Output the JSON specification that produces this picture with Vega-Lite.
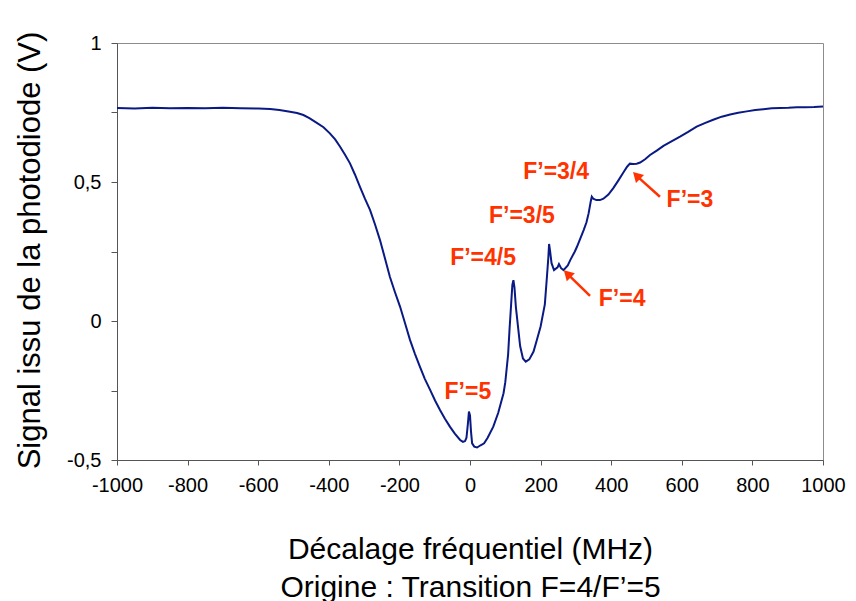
{
  "$schema": "https://vega.github.io/schema/vega-lite/v6.json",
  "width": 706,
  "height": 417,
  "autosize": {"type": "none"},
  "padding": {"left": 117, "top": 43, "right": 33, "bottom": 141},
  "background": "white",
  "config": {
    "view": {"stroke": "#8c8c8c", "strokeWidth": 1},
    "axis": {"grid": false, "domainColor": "#555555", "tickColor": "#555555", "labelColor": "#000000", "titleColor": "#000000", "titleFontWeight": "normal"}
  },
  "datasets": {
    "curve": [
      {"f": -1000, "v": 0.766}, {"f": -950, "v": 0.764}, {"f": -900, "v": 0.767}, {"f": -850, "v": 0.765},
      {"f": -800, "v": 0.766}, {"f": -750, "v": 0.765}, {"f": -700, "v": 0.767}, {"f": -650, "v": 0.765},
      {"f": -600, "v": 0.764}, {"f": -566, "v": 0.763}, {"f": -540, "v": 0.759}, {"f": -510, "v": 0.753},
      {"f": -490, "v": 0.748}, {"f": -472, "v": 0.741}, {"f": -455, "v": 0.730}, {"f": -434, "v": 0.713},
      {"f": -415, "v": 0.697}, {"f": -397, "v": 0.675}, {"f": -382, "v": 0.653}, {"f": -368, "v": 0.627},
      {"f": -354, "v": 0.598}, {"f": -340, "v": 0.567}, {"f": -326, "v": 0.527}, {"f": -312, "v": 0.483},
      {"f": -298, "v": 0.441}, {"f": -283, "v": 0.399}, {"f": -269, "v": 0.347}, {"f": -255, "v": 0.291},
      {"f": -241, "v": 0.226}, {"f": -227, "v": 0.159}, {"f": -213, "v": 0.105}, {"f": -198, "v": 0.051},
      {"f": -184, "v": -0.008}, {"f": -170, "v": -0.068}, {"f": -156, "v": -0.118}, {"f": -142, "v": -0.164},
      {"f": -128, "v": -0.208}, {"f": -113, "v": -0.248}, {"f": -99, "v": -0.286}, {"f": -85, "v": -0.320},
      {"f": -71, "v": -0.352}, {"f": -57, "v": -0.380}, {"f": -43, "v": -0.405}, {"f": -28, "v": -0.428},
      {"f": -20, "v": -0.435}, {"f": -14, "v": -0.432}, {"f": -10, "v": -0.42}, {"f": -6, "v": -0.37},
      {"f": -3, "v": -0.326}, {"f": 0, "v": -0.34}, {"f": 3, "v": -0.40}, {"f": 6, "v": -0.44},
      {"f": 12, "v": -0.452}, {"f": 20, "v": -0.455}, {"f": 30, "v": -0.447}, {"f": 40, "v": -0.440},
      {"f": 50, "v": -0.420}, {"f": 66, "v": -0.380}, {"f": 80, "v": -0.330}, {"f": 95, "v": -0.260},
      {"f": 100, "v": -0.220}, {"f": 108, "v": -0.120}, {"f": 112, "v": -0.030}, {"f": 117, "v": 0.07},
      {"f": 120, "v": 0.13}, {"f": 123, "v": 0.147}, {"f": 126, "v": 0.12}, {"f": 130, "v": 0.05},
      {"f": 136, "v": -0.02}, {"f": 142, "v": -0.09}, {"f": 150, "v": -0.135}, {"f": 158, "v": -0.146},
      {"f": 168, "v": -0.138}, {"f": 180, "v": -0.110}, {"f": 189, "v": -0.070}, {"f": 200, "v": -0.020},
      {"f": 212, "v": 0.060}, {"f": 218, "v": 0.160}, {"f": 222, "v": 0.230}, {"f": 224, "v": 0.277},
      {"f": 227, "v": 0.250}, {"f": 231, "v": 0.208}, {"f": 238, "v": 0.183}, {"f": 248, "v": 0.193},
      {"f": 252, "v": 0.205}, {"f": 258, "v": 0.190}, {"f": 265, "v": 0.183}, {"f": 277, "v": 0.200},
      {"f": 284, "v": 0.219}, {"f": 297, "v": 0.250}, {"f": 303, "v": 0.267}, {"f": 322, "v": 0.327},
      {"f": 330, "v": 0.355}, {"f": 336, "v": 0.387}, {"f": 342, "v": 0.430}, {"f": 345, "v": 0.447},
      {"f": 349, "v": 0.440}, {"f": 358, "v": 0.435}, {"f": 368, "v": 0.435}, {"f": 378, "v": 0.440},
      {"f": 392, "v": 0.455}, {"f": 406, "v": 0.478}, {"f": 420, "v": 0.505}, {"f": 434, "v": 0.533},
      {"f": 445, "v": 0.555}, {"f": 453, "v": 0.566}, {"f": 462, "v": 0.565}, {"f": 472, "v": 0.566},
      {"f": 482, "v": 0.570}, {"f": 496, "v": 0.582}, {"f": 510, "v": 0.597}, {"f": 529, "v": 0.613},
      {"f": 548, "v": 0.630}, {"f": 572, "v": 0.647}, {"f": 595, "v": 0.663}, {"f": 618, "v": 0.680},
      {"f": 642, "v": 0.699}, {"f": 665, "v": 0.712}, {"f": 689, "v": 0.724}, {"f": 713, "v": 0.735},
      {"f": 737, "v": 0.743}, {"f": 760, "v": 0.749}, {"f": 784, "v": 0.754}, {"f": 808, "v": 0.759},
      {"f": 831, "v": 0.762}, {"f": 855, "v": 0.765}, {"f": 878, "v": 0.766}, {"f": 902, "v": 0.767},
      {"f": 926, "v": 0.769}, {"f": 950, "v": 0.769}, {"f": 975, "v": 0.770}, {"f": 1000, "v": 0.772}
    ],
    "labels": [
      {"f": -6, "v": -0.255, "t": "F’=5"},
      {"f": 37, "v": 0.227, "t": "F’=4/5"},
      {"f": 147, "v": 0.378, "t": "F’=3/5"},
      {"f": 244, "v": 0.536, "t": "F’=3/4"},
      {"f": 431, "v": 0.079, "t": "F’=4"},
      {"f": 623, "v": 0.435, "t": "F’=3"}
    ],
    "arrows": [
      {"f": 340, "v": 0.09, "f2": 284, "v2": 0.160},
      {"f": 538, "v": 0.447, "f2": 480, "v2": 0.513}
    ],
    "heads": [
      {"f": 279, "v": 0.166},
      {"f": 475, "v": 0.519}
    ]
  },
  "layer": [
    {
      "data": {"name": "curve"},
      "mark": {"type": "line", "color": "#0a1a84", "strokeWidth": 2, "interpolate": "linear"},
      "encoding": {
        "x": {
          "field": "f", "type": "quantitative",
          "scale": {"domain": [-1000, 1000], "nice": false, "zero": false},
          "axis": {
            "values": [-1000, -900, -800, -700, -600, -500, -400, -300, -200, -100, 0, 100, 200, 300, 400, 500, 600, 700, 800, 900, 1000],
            "labelExpr": "datum.value % 200 == 0 ? toString(datum.value) : ''",
            "tickSize": 5,
            "labelFont": "Liberation Sans",
            "labelFontSize": 20,
            "labelPadding": 10,
            "labelFlush": false,
            "labelOverlap": false,
            "title": ["Décalage fréquentiel (MHz)", "Origine : Transition F=4/F’=5"],
            "titleFont": "Liberation Sans",
            "titleFontSize": 30,
            "titleLineHeight": 38,
            "titleBaseline": "top",
            "titleY": 74
          }
        },
        "y": {
          "field": "v", "type": "quantitative",
          "scale": {"domain": [-0.5, 1], "nice": false, "zero": false},
          "axis": {
            "values": [-0.5, -0.25, 0, 0.25, 0.5, 0.75, 1],
            "labelExpr": "datum.value == 1 ? '1' : datum.value == 0.5 ? '0,5' : datum.value == 0 ? '0' : datum.value == -0.5 ? '-0,5' : ''",
            "tickSize": 6,
            "labelFont": "Liberation Sans",
            "labelFontSize": 20,
            "labelPadding": 10,
            "labelFlush": false,
            "labelOverlap": false,
            "title": "Signal issu de la photodiode (V)",
            "titleFont": "Liberation Sans",
            "titleFontSize": 31,
            "titleAngle": -90,
            "titleBaseline": "middle",
            "titleAlign": "center",
            "titleX": -87,
            "titleY": 207
          }
        }
      }
    },
    {
      "data": {"name": "labels"},
      "mark": {"type": "text", "font": "Liberation Sans", "fontWeight": "bold", "fontSize": 23, "color": "#ff3300", "align": "center", "baseline": "middle"},
      "encoding": {
        "x": {"field": "f", "type": "quantitative"},
        "y": {"field": "v", "type": "quantitative"},
        "text": {"field": "t"}
      }
    },
    {
      "data": {"name": "arrows"},
      "mark": {"type": "rule", "color": "#ff3300", "strokeWidth": 2.5},
      "encoding": {
        "x": {"field": "f", "type": "quantitative"},
        "y": {"field": "v", "type": "quantitative"},
        "x2": {"field": "f2"},
        "y2": {"field": "v2"}
      }
    },
    {
      "data": {"name": "heads"},
      "mark": {"type": "point", "shape": "triangle", "filled": true, "color": "#ff3300", "opacity": 1, "size": 130, "angle": 315},
      "encoding": {
        "x": {"field": "f", "type": "quantitative"},
        "y": {"field": "v", "type": "quantitative"}
      }
    }
  ]
}
